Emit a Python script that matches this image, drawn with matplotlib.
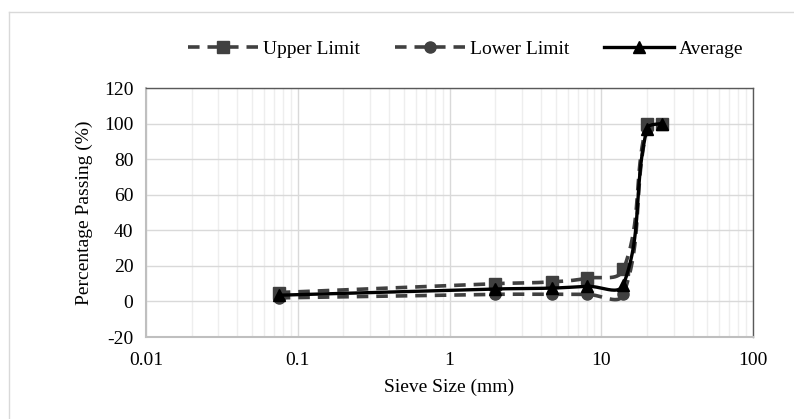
import matplotlib.pyplot as plt
import numpy as np
from matplotlib.lines import Line2D
from matplotlib.ticker import LogLocator, FixedLocator, NullFormatter

plt.rcParams['font.family'] = ['Liberation Serif', 'DejaVu Serif']
plt.rcParams['axes.unicode_minus'] = False

# sieve sizes (mm) and percentage passing
sieve = [0.075, 2.0, 4.75, 8.0, 14.0, 20.0, 25.0]
upper = [5, 10, 11, 13, 18, 100, 100]
lower = [2, 4, 4, 4, 4, 97, 100]
average = [3.5, 7, 7.5, 8.5, 9.5, 97, 100]

x_ticks = [0.01, 0.1, 1, 10, 100]
x_labels = ['0.01', '0.1', '1', '10', '100']
y_ticks = [-20, 0, 20, 40, 60, 80, 100, 120]

# pixel scales of the plot area (used only for Excel-like smoothing)
PX_DEC = 151.75
PX_UNIT = 1.779


def smooth(xs, ys, n=40):
    # bezier through the points in screen space, tangents weighted by chord
    px = np.log10(xs) * PX_DEC
    py = np.asarray(ys, float) * PX_UNIT
    pts = np.column_stack([px, py])
    m = len(pts)
    out = []
    for i in range(m - 1):
        p0 = pts[i - 1] if i > 0 else pts[i]
        p1 = pts[i]
        p2 = pts[i + 1]
        p3 = pts[i + 2] if i + 2 < m else pts[i + 1]
        d01 = np.hypot(*(p1 - p0))
        d12 = np.hypot(*(p2 - p1))
        d23 = np.hypot(*(p3 - p2))
        k1 = d12 / (d01 + d12) if d01 > 0 else 0.5
        k2 = d12 / (d12 + d23) if d23 > 0 else 0.5
        c1 = p1 + (p2 - p0) * k1 * 0.4
        c2 = p2 - (p3 - p1) * k2 * 0.4
        t = np.linspace(0, 1, n)[:, None]
        seg = ((1 - t) ** 3 * p1 + 3 * (1 - t) ** 2 * t * c1
               + 3 * (1 - t) * t ** 2 * c2 + t ** 3 * p2)
        out.append(seg if i == 0 else seg[1:])
    out = np.vstack(out)
    return 10 ** (out[:, 0] / PX_DEC), out[:, 1] / PX_UNIT


fig = plt.figure(figsize=(7.94, 4.19), dpi=100)
ax = fig.add_axes([146 / 794, 1 - 337 / 419, 607 / 794, 249 / 419])

gray = '#404040'
dash = (0, (3.2, 2.2))
sx, sy = smooth(sieve, upper)
ax.plot(sx, sy, color=gray, lw=2.6, ls=dash, zorder=3)
ax.plot(sieve, upper, ls='none', marker='s', ms=8, color=gray, zorder=4)
sx, sy = smooth(sieve, lower)
ax.plot(sx, sy, color=gray, lw=2.6, ls=dash, zorder=3)
ax.plot(sieve, lower, ls='none', marker='o', ms=8, color=gray, zorder=4)
sx, sy = smooth(sieve, average)
ax.plot(sx, sy, color='black', lw=2.4, zorder=5)
ax.plot(sieve, average, ls='none', marker='^', ms=9, color='black', zorder=6)

ax.set_xscale('log')
ax.set_xlim(0.01, 100)
ax.set_ylim(-20, 120)
ax.set_xticks(x_ticks)
ax.set_xticklabels(x_labels)
ax.xaxis.set_minor_locator(LogLocator(base=10, subs=np.arange(2, 10)))
ax.xaxis.set_minor_formatter(NullFormatter())
ax.yaxis.set_major_locator(FixedLocator(y_ticks))
ax.tick_params(which='both', length=0, labelsize=14)
ax.tick_params(axis='x', pad=11)
ax.tick_params(axis='y', pad=9)
ax.grid(True, which='major', color='#d9d9d9', lw=1)
ax.grid(True, which='minor', axis='x', color='#eeeeee', lw=1)
ax.set_axisbelow(True)

for side in ['left', 'bottom']:
    ax.spines[side].set_color('#bfbfbf')
    ax.spines[side].set_linewidth(1.5)
for side in ['top', 'right']:
    ax.spines[side].set_color('#595959')
    ax.spines[side].set_linewidth(1)

ax.set_xlabel('Sieve Size (mm)', fontsize=14, labelpad=7)
ax.set_ylabel('Percentage Passing (%)', fontsize=14)
ax.yaxis.set_label_coords(-0.088, 0.5)

handles = [
    Line2D([], [], color=gray, lw=2.6, ls=dash, marker='s', ms=8),
    Line2D([], [], color=gray, lw=2.6, ls=dash, marker='o', ms=8),
    Line2D([], [], color='black', lw=2.4, marker='^', ms=9),
]
fig.legend(handles, ['Upper Limit', 'Lower Limit', 'Average'],
           loc='center', bbox_to_anchor=(0.587, 1 - 49 / 419), ncol=3,
           frameon=False, fontsize=14, handlelength=3.6, columnspacing=1.8,
           handletextpad=0.25)

# chart area border (only top and left visible)
fig.add_artist(Line2D([9 / 794, 9 / 794], [0, 1 - 12 / 419],
                      transform=fig.transFigure, color='#d9d9d9', lw=1))
fig.add_artist(Line2D([9 / 794, 1], [1 - 12 / 419, 1 - 12 / 419],
                      transform=fig.transFigure, color='#d9d9d9', lw=1))

fig.savefig('out.png', dpi=100)
